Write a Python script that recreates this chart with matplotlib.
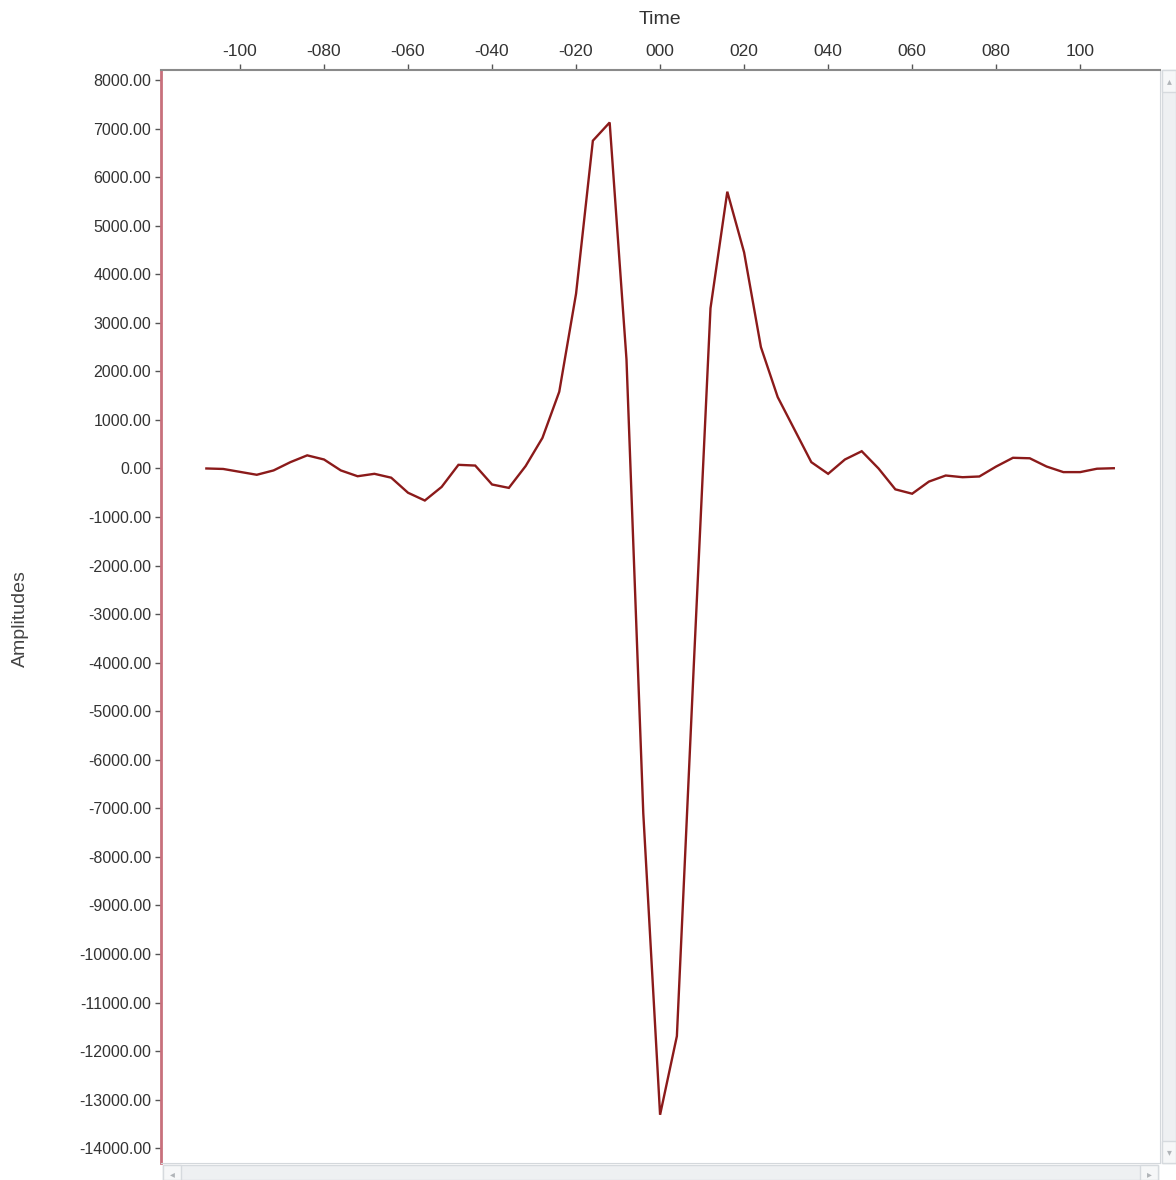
import matplotlib
matplotlib.use("Agg")
import matplotlib.pyplot as plt
from matplotlib.patches import Rectangle
from matplotlib.ticker import FixedLocator, FixedFormatter, FormatStrFormatter

plt.rcParams['font.family'] = ['Liberation Sans', 'DejaVu Sans']

# Wavelet samples (time in ms, amplitude)
times = [-108, -104, -100, -96, -92, -88, -84, -80, -76, -72, -68, -64, -60,
         -56, -52, -48, -44, -40, -36, -32, -28, -24, -20, -16, -12, -8, -4,
         0, 4, 8, 12, 16, 20, 24, 28, 32, 36, 40, 44, 48, 52, 56, 60, 64, 68,
         72, 76, 80, 84, 88, 92, 96, 100, 104, 108]
amplitudes = [0, -10, -70, -130, -40, 130, 270, 185, -40, -160, -110, -190, -500,
              -660, -380, 75, 60, -330, -400, 50, 630, 1580, 3600, 6750, 7125, 2250, -7100,
              -13310, -11690, -4100, 3300, 5700, 4450, 2500, 1470, 800, 130, -110, 185, 355, 0,
              -430, -520, -270, -145, -180, -165, 40, 220, 210, 40, -75, -75, -5, 5]

time_ticks = [-100, -80, -60, -40, -20, 0, 20, 40, 60, 80, 100]
time_tick_labels = ["-100", "-080", "-060", "-040", "-020", "000",
                    "020", "040", "060", "080", "100"]
amp_ticks = list(range(-14000, 8001, 1000))

W, H = 1176, 1180
fig = plt.figure(figsize=(W / 100, H / 100), dpi=100)
fig.patch.set_facecolor("white")

left, right, top, bottom = 161, 1160, 70, 1163
ax = fig.add_axes([left / W, 1 - bottom / H, (right - left) / W, (bottom - top) / H])

ax.plot(times, amplitudes, color="#8b1a1a", lw=1.7, solid_joinstyle="miter")

ax.set_xlim(-118.8, 119.0)
ax.set_ylim(-14303, 8206)

ax.xaxis.set_ticks_position("top")
ax.xaxis.set_label_position("top")
ax.xaxis.set_major_locator(FixedLocator(time_ticks))
ax.xaxis.set_major_formatter(FixedFormatter(time_tick_labels))
ax.yaxis.set_major_locator(FixedLocator(amp_ticks))
ax.yaxis.set_major_formatter(FormatStrFormatter("%.2f"))

ax.tick_params(axis="x", direction="out", length=4, width=1, color="#555555",
               labelsize=12.5, labelcolor="#333333", pad=4)
ax.tick_params(axis="y", direction="out", length=4, width=1, color="#555555",
               labelsize=11.5, labelcolor="#333333", pad=3)

ax.spines["left"].set_color("#c8707c")
ax.spines["left"].set_linewidth(2)
ax.spines["top"].set_color("#8a8a8a")
ax.spines["top"].set_linewidth(1.5)
ax.spines["right"].set_color("#d4d8dc")
ax.spines["bottom"].set_color("#d4d8dc")

fig.text(660 / W, 1 - 20 / H, "Time", ha="center", va="center",
         fontsize=14, color="#333333")
fig.text(20 / W, 1 - 619 / H, "Amplitudes", ha="center", va="center",
         rotation=90, fontsize=14, color="#444444")

# Scroll bars around the plot area
def box(x0, y0, x1, y1, fc, ec):
    fig.patches.append(Rectangle((x0 / W, 1 - y1 / H), (x1 - x0) / W, (y1 - y0) / H,
                                 transform=fig.transFigure, facecolor=fc,
                                 edgecolor=ec, lw=1, zorder=0))

box(163, 1165, 1158, 1180, "#eef0f2", "#d6dade")
box(163, 1165, 181, 1180, "#f6f7f8", "#d6dade")
box(1140, 1165, 1158, 1180, "#f6f7f8", "#d6dade")
box(1162, 70, 1176, 1163, "#eef0f2", "#d6dade")
box(1162, 70, 1176, 92, "#f6f7f8", "#d6dade")
box(1162, 1141, 1176, 1163, "#f6f7f8", "#d6dade")
fig.text(172 / W, 1 - 1174 / H, "◂", ha="center", va="center", fontsize=7, color="#b0b4b8")
fig.text(1149 / W, 1 - 1174 / H, "▸", ha="center", va="center", fontsize=7, color="#b0b4b8")
fig.text(1169 / W, 1 - 81 / H, "▴", ha="center", va="center", fontsize=7, color="#b0b4b8")
fig.text(1169 / W, 1 - 1152 / H, "▾", ha="center", va="center", fontsize=7, color="#b0b4b8")

fig.savefig("out.png", dpi=100, facecolor="white")
